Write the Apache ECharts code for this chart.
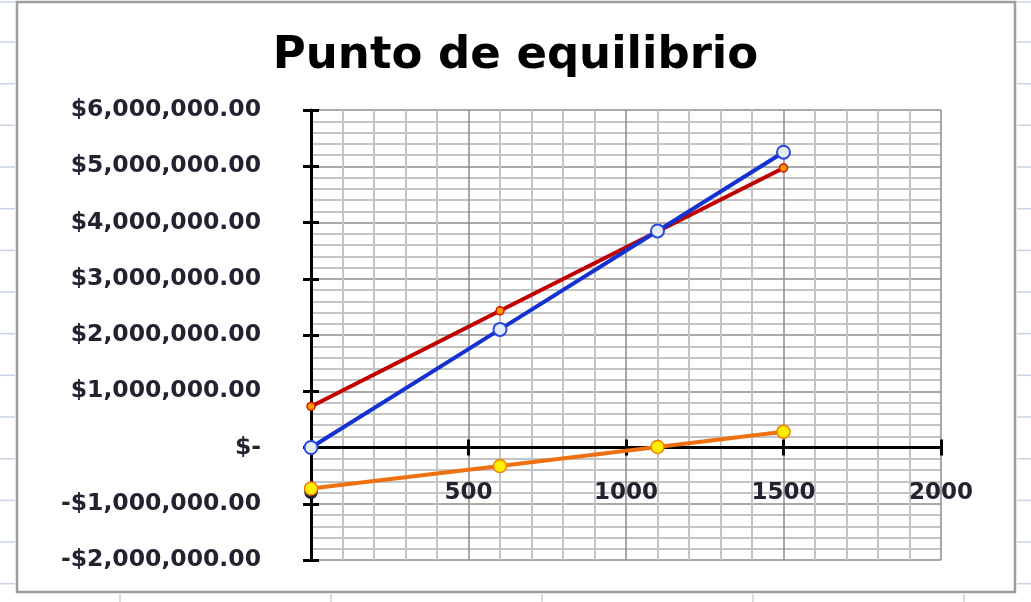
<!DOCTYPE html>
<html>
<head>
<meta charset="utf-8">
<script src="https://cdn.jsdelivr.net/npm/echarts@6/dist/echarts.min.js"></script>
<style>
html,body{margin:0;padding:0;background:#fff;}
#chart{width:1031px;height:602px;}
</style>
</head>
<body>
<div id="chart"></div>
<script>
// ---- data ----
const titleText = 'Punto de equilibrio';
const units = [0, 600, 1100, 1500];
const ingresos = [0, 2100000, 3850000, 5250000];          // blue
const costoTotal = [730000, 2430000, 3840000, 4970000];    // red
const utilidad = [-730000, -330000, 10000, 280000];        // orange
const xMin = 0, xMax = 2000, xStep = 500;
const yMin = -2000000, yMax = 6000000, yStep = 1000000;

function pairs(xs, ys){ return xs.map((x,i)=>[x, ys[i]]); }
function money(v){
  if (v === 0) return '$-';
  const s = Math.abs(v).toLocaleString('en-US',{minimumFractionDigits:2,maximumFractionDigits:2});
  return (v < 0 ? '-$' : '$') + s;
}

const chart = echarts.init(document.getElementById('chart'));
const FONT = 'DejaVu Sans';

// layout of the plot area
const G = {left:311, right:90, top:110, bottom:42};
const plotH = 602 - G.top - G.bottom;
// x axis sits on y = 0: shift it up from the grid bottom by the distance to zero
const zeroOffset = -plotH * (0 - yMin) / (yMax - yMin);

// spreadsheet background decoration (cell gridline stubs & chart frame)
const deco = [];
for (let y = 42; y < 602; y += 41.67) {
  deco.push({type:'line', shape:{x1:0,y1:y,x2:15,y2:y}, style:{stroke:'#c9d3e3',lineWidth:1.5}, silent:true});
  deco.push({type:'line', shape:{x1:1017,y1:y,x2:1031,y2:y}, style:{stroke:'#c9d3e3',lineWidth:1.5}, silent:true});
}
[120,331,542,753,964].forEach(x=>{
  deco.push({type:'line', shape:{x1:x,y1:594,x2:x,y2:602}, style:{stroke:'#c9d3e3',lineWidth:1.5}, silent:true});
});
deco.push({type:'line', shape:{x1:0,y1:2,x2:1031,y2:2}, style:{stroke:'#c9d3e3',lineWidth:1.5}, silent:true});
deco.push({type:'rect', shape:{x:17,y:2,width:998,height:590}, style:{fill:'none',stroke:'#9c9c9c',lineWidth:2.5}, silent:true});

const baseX = {
  type:'value', min:xMin, max:xMax, interval:xStep, position:'bottom', offset:zeroOffset
};
const baseY = {
  type:'value', min:yMin, max:yMax, interval:yStep, position:'left'
};

chart.setOption({
  animation:false,
  backgroundColor:'#ffffff',
  graphic: deco,
  title:{
    text:titleText, left:'center', top:29,
    textStyle:{fontFamily:FONT, fontSize:45, fontWeight:'bold', color:'#000'}
  },
  grid:{left:G.left, right:G.right, top:G.top, bottom:G.bottom, containLabel:false, outerBoundsMode:'none'},
  xAxis:[
    Object.assign({}, baseX, {
      axisLine:{show:true, onZero:false, lineStyle:{color:'#000', width:3}},
      axisTick:{show:true, inside:false, length:8, lineStyle:{color:'#000', width:3}},
      axisLabel:{show:true, margin:34, fontFamily:FONT, fontSize:23, fontWeight:'bold', color:'#222230',
                 formatter:v=>String(v)},
      splitLine:{show:true, lineStyle:{color:'#8c8c8c', width:1.5}},
      minorTick:{show:false, splitNumber:5},
      minorSplitLine:{show:true, lineStyle:{color:'#c4c4c4', width:2}},
      z:5
    }),
    Object.assign({}, baseX, {
      axisLine:{show:false, onZero:false},
      axisTick:{show:true, inside:true, length:8, lineStyle:{color:'#000', width:3}},
      axisLabel:{show:false},
      splitLine:{show:false},
      z:5
    })
  ],
  yAxis:[
    Object.assign({}, baseY, {
      axisLine:{show:true, onZero:false, lineStyle:{color:'#000', width:3}},
      axisTick:{show:true, inside:false, length:8, lineStyle:{color:'#000', width:3}},
      axisLabel:{show:true, margin:50, fontFamily:FONT, fontSize:23.5, fontWeight:'bold', color:'#222230',
                 formatter:money},
      splitLine:{show:true, lineStyle:{color:'#8c8c8c', width:1.5}},
      minorTick:{show:false, splitNumber:5},
      minorSplitLine:{show:true, lineStyle:{color:'#c4c4c4', width:2}},
      z:5
    }),
    Object.assign({}, baseY, {
      axisLine:{show:false, onZero:false},
      axisTick:{show:true, inside:true, length:8, lineStyle:{color:'#000', width:3}},
      axisLabel:{show:false},
      splitLine:{show:false},
      z:5
    })
  ],
  series:[
    {
      name:'Costo total', type:'line', xAxisIndex:0, yAxisIndex:0,
      data:pairs(units, costoTotal), z:10,
      lineStyle:{color:'#c00000', width:4},
      symbol:'circle', symbolSize:8,
      itemStyle:{color:'#ff9900', borderColor:'#d81000', borderWidth:1.5}
    },
    {
      name:'Ingresos', type:'line', xAxisIndex:0, yAxisIndex:0,
      data:pairs(units, ingresos), z:11,
      lineStyle:{color:'#1432d2', width:4},
      symbol:'circle', symbolSize:13,
      itemStyle:{color:'#e4ecf8', borderColor:'#2848e0', borderWidth:2}
    },
    {
      name:'Utilidad', type:'line', xAxisIndex:0, yAxisIndex:0,
      data:pairs(units, utilidad), z:12,
      lineStyle:{color:'#ee7010', width:4},
      symbol:'circle', symbolSize:13,
      itemStyle:{color:'#ffee00', borderColor:'#f08000', borderWidth:1.5}
    }
  ]
});
</script>
</body>
</html>
